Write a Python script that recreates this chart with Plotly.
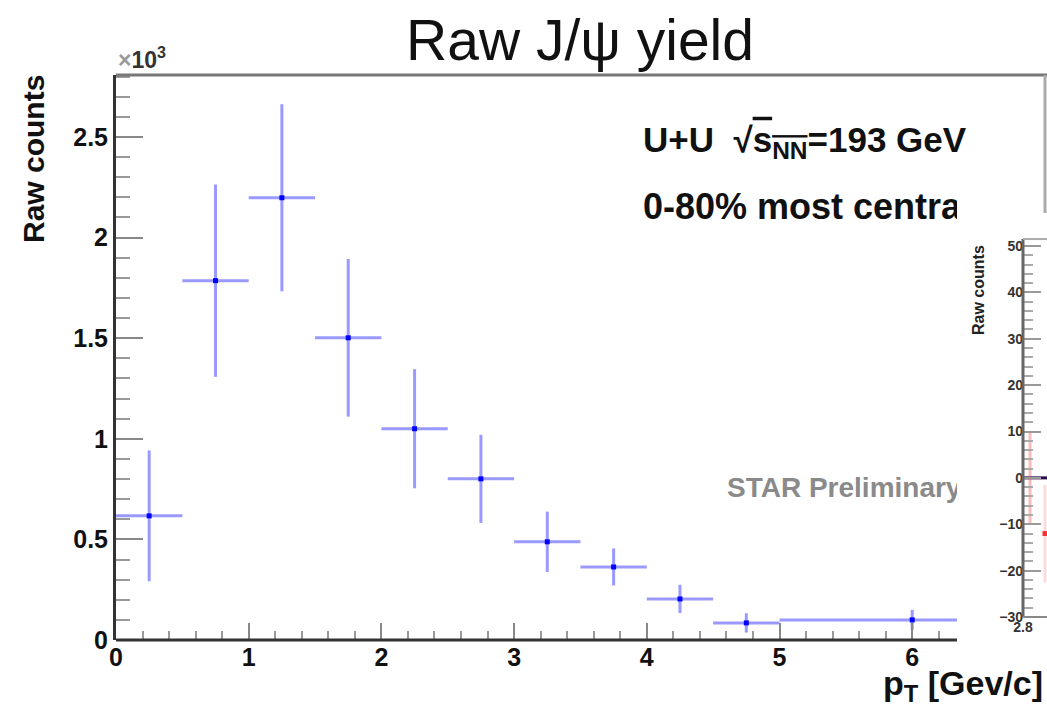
import plotly.graph_objects as go

# ---- J/psi raw yield versus transverse momentum ----
pt_center = [0.25, 0.75, 1.25, 1.75, 2.25, 2.75, 3.25, 3.75, 4.25, 4.75, 6.0]
pt_halfwidth = [0.25, 0.25, 0.25, 0.25, 0.25, 0.25, 0.25, 0.25, 0.25, 0.25, 1.0]
raw_counts = [617, 1786, 2198, 1502, 1050, 801, 488, 363, 204, 85, 100]
raw_counts_err = [325, 478, 465, 392, 296, 219, 150, 92, 70, 48, 50]

# ---- invariant-mass panel (lower mass edge only) ----
mass_x = [2.835, 2.91]
mass_y = [0.0, -12.0]
mass_err_up = [10.0, 10.5]
mass_err_down = [10.0, 10.6]
zero_line_x = [2.8, 2.92]
zero_line_y = [0.0, 0.0]

y_ticks = [0, 0.5, 1, 1.5, 2, 2.5]
x_ticks = [0, 1, 2, 3, 4, 5, 6]
inset_y_ticks = [-30, -20, -10, 0, 10, 20, 30, 40, 50]
inset_y_minor = list(range(-30, 51, 2))

FONT = "Liberation Sans, Arial, Helvetica, sans-serif"
W, H = 1047, 707
L, R, T, B = 116, 0, 75, 67
PW, PH = W - L - R, H - T - B          # plot area in px
PAD_LEFT = 957                           # px where the inset pad begins
PAD_TOP = 185
INSET_AXIS = 1023                        # px of the inset's vertical axis


def px_x(p):
    return (p - L) / PW


def px_y(p):
    return (H - B - p) / PH


x_per_px = 1 / 132.7
y_per_px = 1 / 201.2                     # in units of 10^3 counts
main_xmax = PW * x_per_px
main_ymax = PH * y_per_px

fig = go.Figure()

fig.add_trace(go.Scatter(
    x=pt_center,
    y=[c / 1000 for c in raw_counts],
    mode="markers",
    marker=dict(symbol="square", size=5, color="#0000ff"),
    error_x=dict(type="data", array=pt_halfwidth, color="rgba(70,70,255,0.55)",
                 thickness=3, width=0),
    error_y=dict(type="data", array=[e / 1000 for e in raw_counts_err],
                 color="rgba(70,70,255,0.55)", thickness=3, width=0),
    xaxis="x", yaxis="y", showlegend=False,
))

# labels inside the main frame; the inset pad is drawn over their right end
text_x0 = (643 - L) * x_per_px
fig.add_trace(go.Scatter(
    x=[text_x0, text_x0, (727 - L) * x_per_px],
    y=[(640 - 143) * y_per_px, (640 - 210) * y_per_px, (640 - 490) * y_per_px],
    mode="text",
    text=["U+U  \u221a<span style='text-decoration:overline'>s<sub>NN</sub></span>=193 GeV",
          "0-80% most central",
          "STAR Preliminary"],
    textposition="middle right",
    textfont=dict(family=FONT, size=[35, 36, 28], color=["#111", "#111", "#8a8a8a"],
                  weight="bold"),
    xaxis="x", yaxis="y", showlegend=False, hoverinfo="skip",
))

# inset: mass spectrum edge
fig.add_trace(go.Scatter(
    x=zero_line_x, y=zero_line_y, mode="lines",
    line=dict(color="#2a0850", width=3),
    xaxis="x2", yaxis="y2", showlegend=False,
))
fig.add_trace(go.Scatter(
    x=mass_x[:1], y=mass_y[:1], mode="markers",
    marker=dict(size=1, color="rgba(255,0,0,0)"),
    error_y=dict(type="data", array=mass_err_up[:1], arrayminus=mass_err_down[:1],
                 color="rgba(255,60,60,0.35)", thickness=3, width=0),
    xaxis="x2", yaxis="y2", showlegend=False,
))
fig.add_trace(go.Scatter(
    x=mass_x[1:], y=mass_y[1:], mode="markers",
    marker=dict(symbol="square", size=5, color="#ff3030"),
    error_y=dict(type="data", array=mass_err_up[1:], arrayminus=mass_err_down[1:],
                 color="rgba(255,60,60,0.18)", thickness=3, width=0),
    xaxis="x2", yaxis="y2", showlegend=False,
))

tick_font = dict(family=FONT, size=25, color="#111", weight="bold")

inset_scale = 80 / (617 - 246)           # counts per px in the inset
inset_zero_px = 617 - 30 / inset_scale
inset_ymin = -(H - B - inset_zero_px) * inset_scale
inset_ymax = (inset_zero_px - PAD_TOP) * inset_scale
inset_x_per_px = 0.005
inset_xmin = 2.8 - (INSET_AXIS - PAD_LEFT) * inset_x_per_px
inset_xmax = 2.8 + (W - INSET_AXIS) * inset_x_per_px

fig.update_layout(
    width=W, height=H, autosize=False,
    margin=dict(l=L, r=R, t=T, b=B, pad=0),
    paper_bgcolor="white", plot_bgcolor="white",
    title=dict(text="Raw J/\u03c8 yield", x=580 / W, xanchor="center",
               y=1 - 40 / H, yanchor="middle", yref="container",
               font=dict(family=FONT, size=57, color="#111")),
    xaxis=dict(
        domain=[0, 1], range=[0, main_xmax],
        showline=False,
        ticks="inside", ticklen=17, tickwidth=2, tickcolor="#888",
        tickvals=x_ticks, tickfont=tick_font,
        minor=dict(ticks="inside", ticklen=9, tickwidth=2, tickcolor="#999", dtick=0.2),
        showgrid=False, zeroline=False, fixedrange=True,
    ),
    yaxis=dict(
        domain=[0, 1], range=[0, main_ymax],
        showline=True, linecolor="#333", linewidth=3,
        ticks="inside", ticklen=27, tickwidth=2, tickcolor="#888",
        tickvals=y_ticks, tickfont=tick_font,
        minor=dict(ticks="inside", ticklen=14, tickwidth=2, tickcolor="#999", dtick=0.1),
        showgrid=False, zeroline=False, fixedrange=True,
    ),
    xaxis2=dict(
        domain=[px_x(PAD_LEFT), 1], range=[inset_xmin, inset_xmax],
        anchor="free", position=px_y(617),
        showline=False, ticks="inside", ticklen=6, tickwidth=1, tickcolor="#888",
        tickvals=[2.8], ticktext=["2.8"],
        tickfont=dict(family=FONT, size=14, color="#333", weight="bold"),
        showgrid=False, zeroline=False, fixedrange=True,
    ),
    yaxis2=dict(
        domain=[0, px_y(PAD_TOP)], range=[inset_ymin, inset_ymax],
        anchor="free", position=px_x(INSET_AXIS),
        showline=False, ticks="inside", ticklen=17, tickwidth=2, tickcolor="#999",
        tickvals=inset_y_ticks,
        tickfont=dict(family=FONT, size=14, color="#333", weight="bold"),
        minor=dict(ticks="inside", ticklen=9, tickwidth=2, tickcolor="#aaa",
                   tickmode="array", tickvals=inset_y_minor),
        showgrid=False, zeroline=False, fixedrange=True,
    ),
    shapes=[
        # bottom axis line of the main frame, up to the inset pad
        dict(type="line", xref="paper", yref="paper", x0=0, x1=px_x(PAD_LEFT),
             y0=0, y1=0, line=dict(color="#333", width=3), layer="above"),
        # top edge of the main frame
        dict(type="line", xref="paper", yref="paper", x0=0, x1=1, y0=1, y1=1,
             line=dict(color="#777", width=3)),
        # right edge of the main frame, above the inset pad
        dict(type="line", xref="paper", yref="paper", x0=px_x(1045), x1=px_x(1045),
             y0=1, y1=px_y(213), line=dict(color="#aaa", width=3)),
        # inset frame
        dict(type="line", xref="x2", yref="y2", x0=2.8, x1=2.8, y0=-30, y1=51.5,
             line=dict(color="#666", width=3), layer="above"),
        dict(type="line", xref="x2", yref="y2", x0=2.8, x1=inset_xmax, y0=-30, y1=-30,
             line=dict(color="#888", width=2), layer="above"),
        dict(type="line", xref="x2", yref="y2", x0=2.8, x1=inset_xmax, y0=51.5, y1=51.5,
             line=dict(color="#aaa", width=2), layer="above"),
    ],
    annotations=[
        dict(text="<span style='color:#999'>\u00d7</span>10<sup>3</sup>",
             xref="paper", yref="paper",
             x=0, xanchor="left", y=1, yanchor="bottom", showarrow=False,
             font=dict(family=FONT, size=23, color="#333", weight="bold")),
        dict(text="Raw counts", xref="paper", yref="paper", textangle=-90,
             x=px_x(33), xanchor="center", y=px_y(73), yanchor="top", showarrow=False,
             font=dict(family=FONT, size=30, color="#111", weight="bold")),
        dict(text="p<sub>T</sub> [Gev/c]", xref="paper", yref="paper",
             x=px_x(1045), xanchor="right", y=px_y(662), yanchor="top", showarrow=False,
             font=dict(family=FONT, size=34, color="#111", weight="bold")),
        dict(text="Raw counts", xref="paper", yref="paper", textangle=-90,
             x=px_x(978), xanchor="center", y=px_y(243), yanchor="top", showarrow=False,
             font=dict(family=FONT, size=16, color="#222", weight="bold")),
    ],
)

fig.write_html("out.html")
